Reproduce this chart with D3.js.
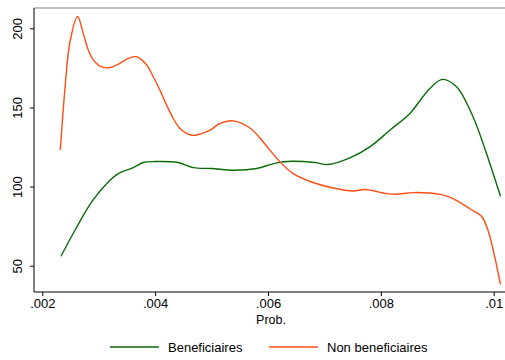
<!DOCTYPE html>
<html>
<head>
<meta charset="utf-8">
<script src="https://cdn.jsdelivr.net/npm/d3@7"></script>
<style>
  body { margin: 0; background: #fff; }
  svg { display: block; font-family: "Liberation Sans", Arial, sans-serif; }
</style>
</head>
<body>
<div id="chart"></div>
<script>

// kernel density estimates
var benefX = [0.002331, 0.002579, 0.002875, 0.003169, 0.003346, 0.003612, 0.003789, 0.003996,
              0.004409, 0.004675, 0.005001, 0.005414, 0.005798, 0.006152, 0.006418, 0.006831,
              0.007066, 0.007451, 0.007805, 0.008159, 0.008514, 0.008868, 0.009093, 0.009341,
              0.009635, 0.009872, 0.01012];
var benefY = [56, 72.4, 90.3, 102.9, 108.2, 112, 115.2, 115.8,
              115.2, 112, 111.4, 110.3, 111.4, 115, 116, 115.2,
              113.9, 118.1, 125.1, 135.6, 146.2, 162, 167.7, 163,
              144, 120.9, 93.9];

var nonX = [0.002319, 0.002402, 0.002491, 0.002624, 0.002726, 0.002815, 0.002903, 0.003022,
            0.003151, 0.003318, 0.003523, 0.003672, 0.00385, 0.003966, 0.004085, 0.004204,
            0.004321, 0.004439, 0.004586, 0.004705, 0.004971, 0.005148, 0.005384, 0.005679,
            0.005915, 0.006211, 0.006447, 0.006772, 0.007155, 0.007509, 0.007717, 0.008101,
            0.008278, 0.008572, 0.009075, 0.00928, 0.009577, 0.009784, 0.0099, 0.010019, 0.01012];
var nonY = [123, 162, 191.5, 207.5, 196.8, 186.3, 180, 176.1,
            175, 176.8, 181, 182, 176.8, 169.4, 160.9, 151.4,
            143, 136.7, 133.1, 132.4, 135.6, 139.9, 141.5, 137,
            128.2, 115.6, 108.2, 102.9, 99.1, 97.2, 98.1, 95.6,
            95.1, 96.2, 94.9, 92.4, 86, 81.2, 72.3, 55.5, 38.2];

var xTicks = [0.002, 0.004, 0.006, 0.008, 0.01];
var xTickLabels = [".002", ".004", ".006", ".008", ".01"];
var yTicks = [50, 100, 150, 200];
var seriesNames = ["Beneficiaires", "Non beneficiaires"];
var seriesColors = ["#0a6b0a", "#ff4d12"];

var W = 505, H = 360;
var box = {left: 34, right: 505, top: 8, bottom: 292};

var svg = d3.select("#chart").append("svg")
  .attr("width", W)
  .attr("height", H);

var x = d3.scaleLinear().domain([0.002, 0.01]).range([42.3, 493.7]);
var y = d3.scaleLinear().domain([50, 200]).range([265.7, 28.3]);

// top frame line (gray)
svg.append("line")
  .attr("x1", box.left).attr("x2", box.right)
  .attr("y1", box.top).attr("y2", box.top)
  .attr("stroke", "#808080").attr("stroke-width", 1.2);

// Y axis
var yAxis = d3.axisLeft(y).tickValues(yTicks).tickSize(4).tickSizeOuter(0);
var gy = svg.append("g")
  .attr("transform", "translate(" + box.left + ",0)")
  .call(yAxis);
gy.select(".domain").attr("d", "M0," + box.top + "V" + box.bottom).attr("stroke", "#000");
gy.selectAll(".tick line").attr("stroke", "#000");
gy.selectAll(".tick text")
  .attr("x", 0).attr("dy", 0)
  .attr("transform", "translate(-12,0) rotate(-90)")
  .style("text-anchor", "middle")
  .style("font-size", "13px")
  .attr("fill", "#000");

// X axis
var xAxis = d3.axisBottom(x).tickValues(xTicks)
  .tickFormat(function(d, i) { return xTickLabels[i]; })
  .tickSize(4).tickSizeOuter(0);
var gx = svg.append("g")
  .attr("transform", "translate(0," + box.bottom + ")")
  .call(xAxis);
gx.select(".domain").attr("d", "M" + box.left + ",0H" + box.right).attr("stroke", "#000");
gx.selectAll(".tick line").attr("stroke", "#000");
gx.selectAll(".tick text")
  .attr("y", 7)
  .style("font-size", "13px")
  .attr("fill", "#000");

svg.append("text")
  .attr("x", (x(0.006) + 3))
  .attr("y", 324)
  .style("text-anchor", "middle")
  .style("font-size", "12.5px")
  .text("Prob.");

// curves
var line = d3.line()
  .x(function(d) { return x(d[0]); })
  .y(function(d) { return y(d[1]); })
  .curve(d3.curveCatmullRom.alpha(0.5));

var allSeries = [d3.zip(benefX, benefY), d3.zip(nonX, nonY)];

svg.selectAll(".curve")
  .data(allSeries)
  .enter().append("path")
  .attr("class", "curve")
  .attr("fill", "none")
  .attr("stroke", function(d, i) { return seriesColors[i]; })
  .attr("stroke-width", 1.4)
  .attr("d", line);

// legend
var legX = [110, 269];
var leg = svg.selectAll(".leg")
  .data(seriesNames)
  .enter().append("g")
  .attr("class", "leg")
  .attr("transform", function(d, i) { return "translate(" + legX[i] + ",348)"; });
leg.append("line")
  .attr("x1", 0).attr("x2", 49)
  .attr("y1", -1).attr("y2", -1)
  .attr("stroke", function(d, i) { return seriesColors[i]; })
  .attr("stroke-width", 1.4);
leg.append("text")
  .attr("x", 58)
  .attr("y", 4)
  .style("font-size", "13px")
  .text(function(d) { return d; });

</script>
</body>
</html>
